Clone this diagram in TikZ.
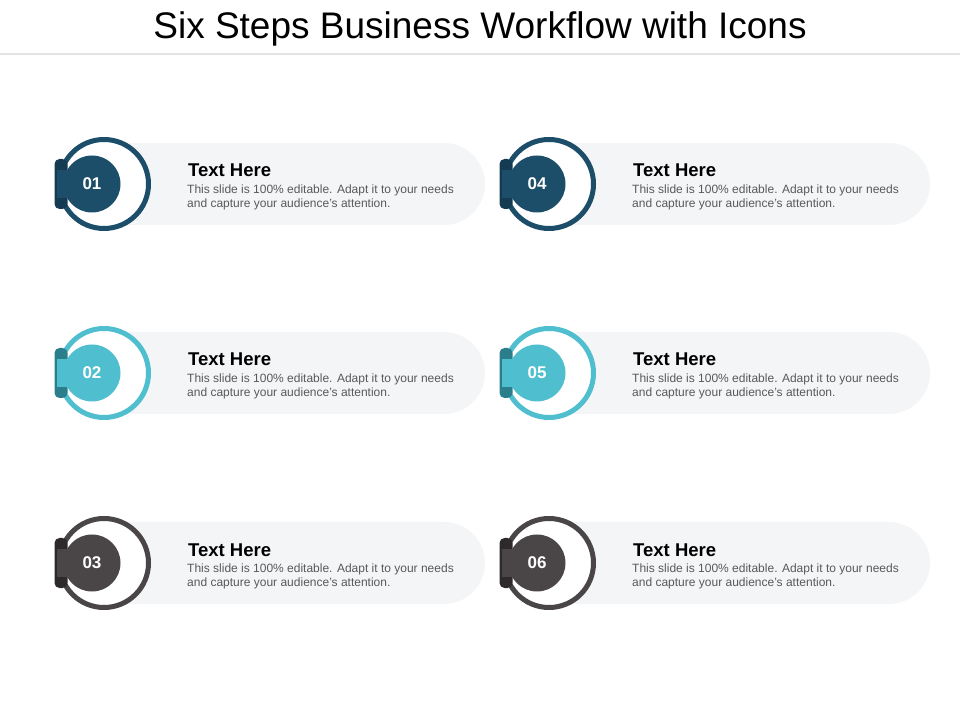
\documentclass[tikz,border=0pt]{standalone}
\usepackage{fontspec}
\setmainfont{Liberation Sans}
\usetikzlibrary{
    positioning,      % For placing nodes relative to each other
    shapes.misc       % For the rounded rectangle of the text bands
}

% Colours of the three rows (main tone and darker tab tone)
\definecolor{step_blue}{HTML}{1C4E69}
\definecolor{step_blue_dark}{HTML}{143B51}
\definecolor{step_cyan}{HTML}{4FBFCF}
\definecolor{step_cyan_dark}{HTML}{2B7E8B}
\definecolor{step_grey}{HTML}{4A4546}
\definecolor{step_grey_dark}{HTML}{2E2A2B}
\definecolor{band_grey}{HTML}{F4F5F7}
\definecolor{rule_grey}{HTML}{E4E4E4}
\definecolor{body_grey}{HTML}{595959}

\begin{document}
\begin{tikzpicture}[
    x=1pt, y=1pt,
    % Light band behind each text block, round only at its right end
    band_style/.style={
        rounded rectangle, rounded rectangle left arc=none,
        fill=band_grey, minimum width=385pt, minimum height=82pt,
        inner sep=0pt
    },
    % Open ring round the number, white inside
    ring_style/.style={
        circle, fill=white, line width=5pt,
        minimum size=89pt, inner sep=0pt
    },
    % Darker tab at the left of the ring
    tab_style/.style={
        rectangle, rounded corners=5pt,
        minimum width=13pt, minimum height=50pt, inner sep=0pt
    },
    % Piece that joins the disc to the tab
    bridge_style/.style={
        rectangle, minimum width=36pt, minimum height=28pt, inner sep=0pt
    },
    % Filled disc carrying the step number
    disc_style/.style={
        circle, minimum size=57pt, inner sep=0pt,
        text=white, font=\fontsize{17}{20}\selectfont\bfseries
    },
    % Heading and body text of each step
    head_style/.style={
        inner sep=0pt, font=\fontsize{18.5}{22}\selectfont\bfseries
    },
    body_style/.style={
        inner sep=0pt, align=left, text=body_grey,
        font=\fontsize{12}{14}\selectfont
    }
]
    \useasboundingbox (0,0) rectangle (960,720);

    % 1. Title and the rule under it
    \node[anchor=base, font=\fontsize{37}{40}\selectfont] (title) at (480,681)
        {Six Steps Business Workflow with Icons};
    \coordinate (rule_left) at (0,666);
    \coordinate (rule_right) at (960,666);
    \draw[rule_grey, line width=1.2pt] (rule_left) -- (rule_right);

    % 2. Step 01
    \node[band_style] (band_one) at (292.5,536) {};
    \node[ring_style, draw=step_blue] (ring_one) at (104,536) {};
    \node[tab_style, fill=step_blue_dark] (tab_one) at (61,536) {};
    \node[bridge_style, fill=step_blue] (bridge_one) at (75,536) {};
    \node[disc_style, fill=step_blue] (disc_one) at (92,536) {01};
    \node[head_style, anchor=base west] (head_one) at (188,543) {Text Here};
    \node[body_style, anchor=north west] (body_one) at (187,535)
        {This slide is 100\% editable. Adapt it to your needs\\and capture your audience's attention.};

    % 3. Step 02
    \node[band_style] (band_two) at (292.5,347) {};
    \node[ring_style, draw=step_cyan] (ring_two) at (104,347) {};
    \node[tab_style, fill=step_cyan_dark] (tab_two) at (61,347) {};
    \node[bridge_style, fill=step_cyan] (bridge_two) at (75,347) {};
    \node[disc_style, fill=step_cyan] (disc_two) at (92,347) {02};
    \node[head_style, anchor=base west] (head_two) at (188,354) {Text Here};
    \node[body_style, anchor=north west] (body_two) at (187,346)
        {This slide is 100\% editable. Adapt it to your needs\\and capture your audience's attention.};

    % 4. Step 03
    \node[band_style] (band_three) at (292.5,157) {};
    \node[ring_style, draw=step_grey] (ring_three) at (104,157) {};
    \node[tab_style, fill=step_grey_dark] (tab_three) at (61,157) {};
    \node[bridge_style, fill=step_grey] (bridge_three) at (75,157) {};
    \node[disc_style, fill=step_grey] (disc_three) at (92,157) {03};
    \node[head_style, anchor=base west] (head_three) at (188,164) {Text Here};
    \node[body_style, anchor=north west] (body_three) at (187,156)
        {This slide is 100\% editable. Adapt it to your needs\\and capture your audience's attention.};

    % 5. Step 04
    \node[band_style] (band_four) at (737.5,536) {};
    \node[ring_style, draw=step_blue] (ring_four) at (549,536) {};
    \node[tab_style, fill=step_blue_dark] (tab_four) at (506,536) {};
    \node[bridge_style, fill=step_blue] (bridge_four) at (520,536) {};
    \node[disc_style, fill=step_blue] (disc_four) at (537,536) {04};
    \node[head_style, anchor=base west] (head_four) at (633,543) {Text Here};
    \node[body_style, anchor=north west] (body_four) at (632,535)
        {This slide is 100\% editable. Adapt it to your needs\\and capture your audience's attention.};

    % 6. Step 05
    \node[band_style] (band_five) at (737.5,347) {};
    \node[ring_style, draw=step_cyan] (ring_five) at (549,347) {};
    \node[tab_style, fill=step_cyan_dark] (tab_five) at (506,347) {};
    \node[bridge_style, fill=step_cyan] (bridge_five) at (520,347) {};
    \node[disc_style, fill=step_cyan] (disc_five) at (537,347) {05};
    \node[head_style, anchor=base west] (head_five) at (633,354) {Text Here};
    \node[body_style, anchor=north west] (body_five) at (632,346)
        {This slide is 100\% editable. Adapt it to your needs\\and capture your audience's attention.};

    % 7. Step 06
    \node[band_style] (band_six) at (737.5,157) {};
    \node[ring_style, draw=step_grey] (ring_six) at (549,157) {};
    \node[tab_style, fill=step_grey_dark] (tab_six) at (506,157) {};
    \node[bridge_style, fill=step_grey] (bridge_six) at (520,157) {};
    \node[disc_style, fill=step_grey] (disc_six) at (537,157) {06};
    \node[head_style, anchor=base west] (head_six) at (633,164) {Text Here};
    \node[body_style, anchor=north west] (body_six) at (632,156)
        {This slide is 100\% editable. Adapt it to your needs\\and capture your audience's attention.};

\end{tikzpicture}
\end{document}
